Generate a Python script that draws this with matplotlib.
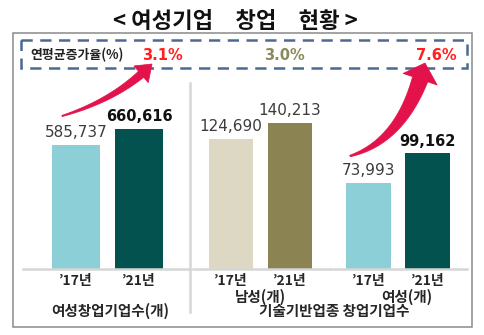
import numpy as np
import matplotlib
matplotlib.use("Agg")
import matplotlib.pyplot as plt
from matplotlib.patches import Rectangle, Polygon

plt.rcParams['font.family'] = ['Noto Sans CJK KR', 'DejaVu Sans']

# ---- data ----
years = ["’17년", "’21년"]
women_startups = [585737, 660616]
tech_male = [124690, 140213]
tech_female = [73993, 99162]
cagr = [3.1, 3.0, 7.6]

title = "< 여성기업\u3000창업\u3000현황 >"
cagr_label = "연평균증가율(%)"
left_label = "여성창업기업수(개)"
male_label = "남성(개)"
female_label = "여성(개)"
right_label = "기술기반업종 창업기업수"

# ---- colours ----
LIGHT_BLUE = "#8dcfd6"
DARK_TEAL = "#03524f"
BEIGE = "#dcd8c3"
OLIVE = "#8b8452"
RED_TXT = "#ff1f1f"
OLIVE_TXT = "#8c8a5c"
ARROW = "#e3124b"
GRID_GRAY = "#d6d6d6"

W, H = 485, 335
fig = plt.figure(figsize=(W / 100, H / 100), dpi=100)
fig.patch.set_facecolor("white")


def px_axes(x0, x1, y_top, y_bot):
    """Axes placed by pixel box (y measured from the top)."""
    return fig.add_axes([x0 / W, (H - y_bot) / H, (x1 - x0) / W, (y_bot - y_top) / H])


def bar_panel(x0, x1, centers_px, values, colors, ymax, width, bold_idx):
    ax = px_axes(x0, x1, 100, 269)
    step = centers_px[1] - centers_px[0]
    ax.set_xlim((x0 - centers_px[0]) / step, (x1 - centers_px[0]) / step)
    ax.set_ylim(0, ymax)
    xs = np.arange(len(values))
    ax.bar(xs, values, width=width, color=colors, zorder=2)
    for i, v in enumerate(values):
        bold = i == bold_idx
        ax.annotate(f"{v:,}", (xs[i], v), xytext=(0, 3.5), textcoords="offset points",
                    ha="center", va="bottom", family="DejaVu Sans",
                    fontsize=10.5 if bold else 11,
                    fontweight="bold" if bold else "normal",
                    color="#111111" if bold else "#3c3c3c")
    ax.set_xticks(xs, years)
    ax.tick_params(axis="x", length=0, pad=3.8, labelsize=10, labelcolor="#262626")
    for lab in ax.get_xticklabels():
        lab.set_fontweight("bold")
    ax.set_yticks([])
    for s in ("left", "right", "top"):
        ax.spines[s].set_visible(False)
    ax.spines["bottom"].set_color(GRID_GRAY)
    ax.spines["bottom"].set_linewidth(1.8)
    ax.patch.set_alpha(0)
    return ax


bar_panel(23, 190, (76, 139), women_startups, [LIGHT_BLUE, DARK_TEAL], 169 * 4720, 0.76, 1)
bar_panel(193, 330, (231, 290), tech_male, [BEIGE, OLIVE], 169 * 960, 0.75, None)
bar_panel(330, 467, (368.5, 427.5), tech_female, [LIGHT_BLUE, DARK_TEAL], 169 * 858, 0.76, 1)

# ---- overlay in pixel coordinates ----
ov = fig.add_axes([0, 0, 1, 1])
ov.set_xlim(0, W)
ov.set_ylim(H, 0)
ov.axis("off")
ov.patch.set_alpha(0)

# outer frame
ov.add_patch(Rectangle((13, 33), 459, 294, fill=False, ec="#8a8a8a", lw=1.1))
# dashed CAGR box
ov.add_patch(Rectangle((21, 40), 446, 28, fill=False, ec="#4b6a93", lw=1.8,
                       ls=(0, (4.5, 3))))
# panel divider
ov.plot([190, 190], [83, 312], color=GRID_GRAY, lw=1.8)

ov.text(235.5, 21, title, ha="center", va="center", fontsize=16,
        fontweight="bold", color="#111111")

ov.text(30, 55, cagr_label, ha="left", va="center", fontsize=9.3,
        fontweight="bold", color="#222222")
cagr_pos = [162, 284, 436]
cagr_col = [RED_TXT, OLIVE_TXT, RED_TXT]
for xp, val, col in zip(cagr_pos, cagr, cagr_col):
    ov.text(xp, 55, f"{val:.1f}%", ha="center", va="center", family="DejaVu Sans",
            fontsize=10.5, fontweight="bold", color=col)

ov.text(110, 311, left_label, ha="center", va="center", fontsize=10.5,
        fontweight="bold", color="#262626")
ov.text(260, 296.5, male_label, ha="center", va="center", fontsize=10.5,
        fontweight="bold", color="#262626")
ov.text(407, 296.5, female_label, ha="center", va="center", fontsize=10.5,
        fontweight="bold", color="#262626")
ov.text(334, 311, right_label, ha="center", va="center", fontsize=10.5,
        fontweight="bold", color="#262626")


def curved_arrow(p0, p1, p2, w0, w1, head_w, head_len, color):
    p0, p1, p2 = map(np.asarray, (p0, p1, p2))
    t = np.linspace(0, 1, 400)[:, None]
    pts = (1 - t) ** 2 * p0 + 2 * (1 - t) * t * p1 + t ** 2 * p2
    seg = np.hypot(*np.diff(pts, axis=0).T)
    from_tip = np.concatenate([np.cumsum(seg[::-1])[::-1], [0]])
    k = np.argmin(np.abs(from_tip - head_len))
    body = pts[:k + 1]
    tang = np.gradient(body, axis=0)
    tang /= np.linalg.norm(tang, axis=1)[:, None]
    norm = np.column_stack([-tang[:, 1], tang[:, 0]])
    widths = np.linspace(w0, w1, len(body))[:, None] / 2
    left = body + norm * widths
    right = body - norm * widths
    base = body[-1]
    n = norm[-1]
    head = [base + n * head_w / 2, p2, base - n * head_w / 2]
    poly = np.vstack([left, head, right[::-1]])
    ov.add_patch(Polygon(poly, closed=True, fc=color, ec=color, lw=0.5, zorder=5))


curved_arrow((62, 116), (118, 99), (152, 64), 1.2, 8, 22, 15, ARROW)
curved_arrow((350, 156), (405, 140), (425, 63), 1.5, 16, 36, 17, ARROW)

fig.savefig("out.png", dpi=100, facecolor="white")
